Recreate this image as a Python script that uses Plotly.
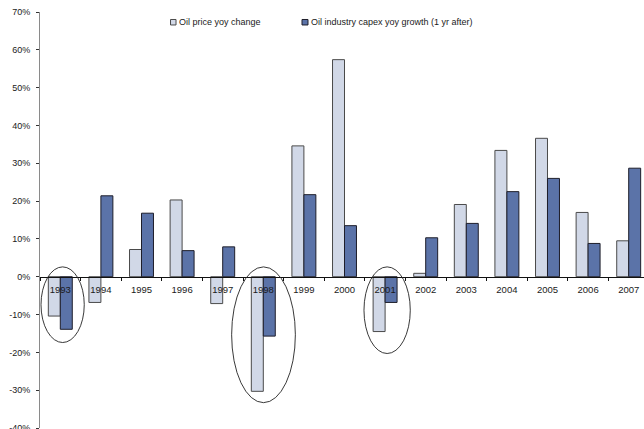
import plotly.graph_objects as go

# Years on the category axis
years = ["1993", "1994", "1995", "1996", "1997", "1998", "1999", "2000",
         "2001", "2002", "2003", "2004", "2005", "2006", "2007"]

# Year-on-year change, percent
oil_price_yoy = [-10.4, -6.8, 7.2, 20.3, -7.1, -30.3, 34.6, 57.4,
                 -14.5, 0.9, 19.1, 33.4, 36.6, 17.0, 9.5]
capex_yoy_1yr_after = [-13.9, 21.4, 16.8, 6.9, 7.9, -15.7, 21.7, 13.5,
                       -6.8, 10.3, 14.1, 22.5, 26.0, 8.8, 28.7]

series_names = ["Oil price yoy change", "Oil industry capex yoy growth (1 yr after)"]

# y-axis ticks
y_ticks = [-40, -30, -20, -10, 0, 10, 20, 30, 40, 50, 60, 70]
y_tick_text = ["-40%", "-30%", "-20%", "-10%", "0%", "10%", "20%", "30%",
               "40%", "50%", "60%", "70%"]

LIGHT = "#D1D8E7"
DARK = "#5B73A8"
FONT = "Liberation Sans, Arial, sans-serif"

fig = go.Figure()
fig.add_trace(go.Bar(x=years, y=oil_price_yoy, name=series_names[0],
                     marker=dict(color=LIGHT, line=dict(color="#4a4a4a", width=1))))
fig.add_trace(go.Bar(x=years, y=capex_yoy_1yr_after, name=series_names[1],
                     marker=dict(color=DARK, line=dict(color="#1e1e2a", width=1))))

# Ellipses around the down years
for x0, x1, y0, y1 in [(-0.475, 0.59, 2.6, -17.4),
                       (4.22, 5.79, 2.6, -33.3),
                       (7.48, 8.62, 2.6, -20.3)]:
    fig.add_shape(type="circle", xref="x", yref="y", x0=x0, x1=x1, y0=y0, y1=y1,
                  line=dict(color="#222222", width=0.9), fillcolor="rgba(0,0,0,0)",
                  layer="above")

# Legend keys
for (x0, x1), col, lc in [((0.2161, 0.2252), LIGHT, "#4a4a4a"),
                          ((0.4338, 0.4437), DARK, "#1e1e2a")]:
    fig.add_shape(type="rect", xref="paper", yref="paper", x0=x0, x1=x1,
                  y0=0.9688, y1=0.982, fillcolor=col, line=dict(color=lc, width=1))
for xpos, name in zip([0.2272, 0.4455], series_names):
    fig.add_annotation(xref="paper", yref="paper", x=xpos, y=0.9753,
                       xanchor="left", yanchor="middle", showarrow=False,
                       text=name, font=dict(family=FONT, size=9, color="#1a1a1a"))

fig.update_layout(
    width=644, height=429,
    margin=dict(l=40, r=0, t=12, b=1),
    paper_bgcolor="white", plot_bgcolor="white",
    barmode="group", bargap=0.41, bargroupgap=0,
    showlegend=False,
    font=dict(family=FONT, size=9, color="#1a1a1a"),
)
fig.update_yaxes(range=[-40, 70], tickvals=y_ticks, ticktext=y_tick_text,
                 automargin=False,
                 showgrid=False, zeroline=False, showline=True,
                 linecolor="#8a8a8a", linewidth=1,
                 ticks="outside", ticklen=3, tickcolor="#333333",
                 ticklabelstandoff=4, ticklabeloverflow="allow",
                 tickfont=dict(family=FONT, size=9, color="#1a1a1a"))
fig.update_xaxes(type="category", range=[-0.5, 14.377],
                 anchor="free", position=40 / 110, automargin=False,
                 showgrid=False, zeroline=False, showline=True,
                 linecolor="#111111", linewidth=1,
                 ticks="outside", ticklen=3, tickcolor="#111111",
                 tickson="boundaries", ticklabelstandoff=4,
                 ticklabeloverflow="allow",
                 tickfont=dict(family=FONT, size=9.5, color="#1a1a1a"))

fig.write_html("out.html")
